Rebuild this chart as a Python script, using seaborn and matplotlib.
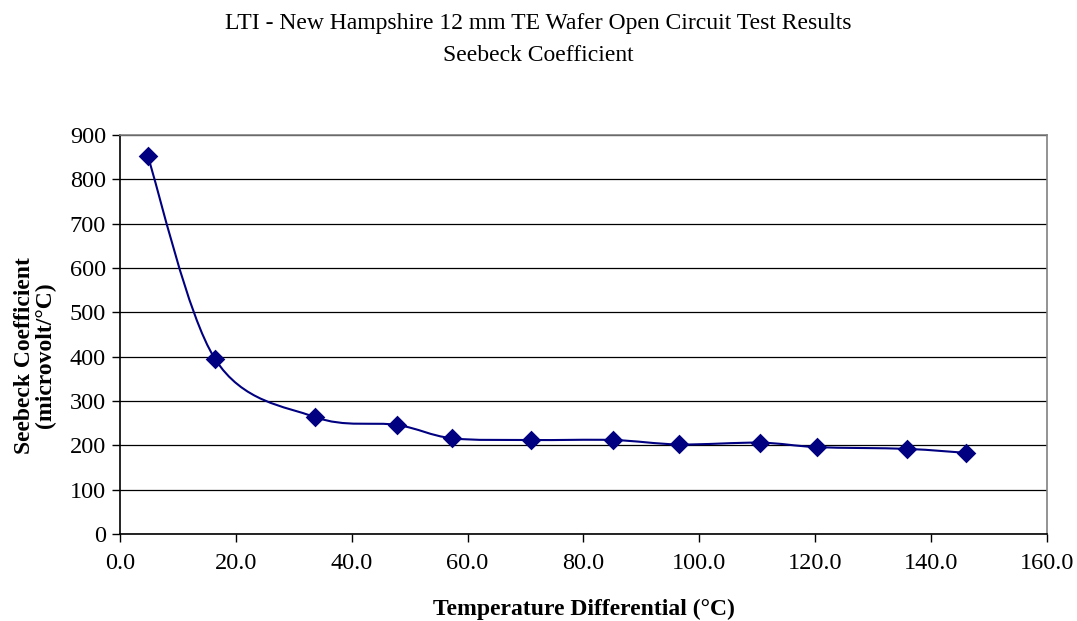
import numpy as np
import pandas as pd
import matplotlib
matplotlib.use("Agg")
import matplotlib.pyplot as plt
from matplotlib.path import Path
from matplotlib.patches import PathPatch
import seaborn as sns

# Data
temp_diff = [4.8, 16.4, 33.6, 47.8, 57.3, 70.9, 85.1, 96.5, 110.5, 120.3, 135.8, 146.0]
seebeck = [852, 395, 264, 246, 216, 212, 212, 202, 206, 196, 192, 183]
x_ticks = [0, 20, 40, 60, 80, 100, 120, 140, 160]
y_ticks = [0, 100, 200, 300, 400, 500, 600, 700, 800, 900]
title_lines = ["LTI - New Hampshire 12 mm TE Wafer Open Circuit Test Results", "Seebeck Coefficient"]
x_label = "Temperature Differential (°C)"
y_label = "Seebeck Coefficient\n(microvolt/°C)"

sns.set_style("white")
plt.rcParams['font.family'] = ['Liberation Serif', 'DejaVu Serif']
plt.rcParams['text.color'] = 'black'
plt.rcParams['axes.labelcolor'] = 'black'

navy = "#000080"
fig = plt.figure(figsize=(10.77, 6.21), dpi=100)
ax = fig.add_axes([0.1114, 0.1401, 0.9721 - 0.1114, 0.7826 - 0.1401])

df = pd.DataFrame({"x": temp_diff, "y": seebeck})

# Smoothed line (Catmull-Rom style Bezier, as in spreadsheet "smoothed line")
xs = np.array(temp_diff, float)
ys = np.array(seebeck, float)
pts = np.column_stack([xs, ys])
n = len(pts)
verts = [tuple(pts[0])]
codes = [Path.MOVETO]
for i in range(n - 1):
    p0 = pts[i - 1] if i > 0 else pts[i]
    p1 = pts[i]
    p2 = pts[i + 1]
    p3 = pts[i + 2] if i + 2 < n else pts[i + 1]
    c1 = p1 + (p2 - p0) / 6.0
    c2 = p2 - (p3 - p1) / 6.0
    verts += [tuple(c1), tuple(c2), tuple(p2)]
    codes += [Path.CURVE4] * 3
ax.add_patch(PathPatch(Path(verts, codes), facecolor="none", edgecolor=navy, lw=1.5, zorder=3))

sns.scatterplot(data=df, x="x", y="y", marker="D", color=navy, s=100, edgecolor=navy, linewidth=0, ax=ax, zorder=4)

ax.set_xlim(0, 160)
ax.set_ylim(0, 900)
ax.set_xticks(x_ticks)
ax.set_xticklabels([f"{v:.1f}" for v in x_ticks])
ax.set_yticks(y_ticks)
ax.set_yticklabels([str(v) for v in y_ticks])
ax.tick_params(axis="both", direction="out", length=6, width=1, colors="black", labelsize=17.5,
               labelcolor="black", bottom=True, left=True, top=False, right=False)
ax.tick_params(axis="x", pad=8)
ax.tick_params(axis="y", pad=4)
ax.yaxis.grid(True, color="black", lw=0.9)
ax.xaxis.grid(False)
ax.set_axisbelow(True)
for s in ["left", "bottom"]:
    ax.spines[s].set_color("black")
    ax.spines[s].set_linewidth(1.2)
for s in ["top", "right"]:
    ax.spines[s].set_color("#808080")
    ax.spines[s].set_linewidth(1.2)

xl = ax.set_xlabel(x_label, fontsize=17, fontweight="bold", color="black")
xl.set_va("center")
ax.xaxis.set_label_coords(0.5, -0.188)
yl = ax.set_ylabel(y_label, fontsize=17, fontweight="bold", linespacing=1.0, color="black")
yl.set_va("center")
ax.yaxis.set_label_coords(-0.0917, 0.447)

fig.text(0.5, 0.962, title_lines[0], ha="center", va="center", fontsize=17, color="black")
fig.text(0.5, 0.910, title_lines[1], ha="center", va="center", fontsize=17, color="black")

fig.savefig("out.png", dpi=100)
